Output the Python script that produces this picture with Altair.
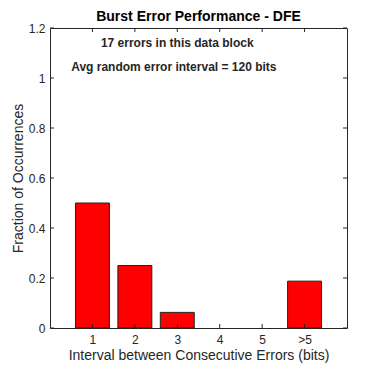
import altair as alt
import pandas as pd

categories = ["1", "2", "3", "4", "5", ">5"]
positions = [1, 2, 3, 4, 5, 6]
fractions = [0.5, 0.25, 0.0625, 0.0, 0.0, 0.1875]
y_ticks = [0, 0.2, 0.4, 0.6, 0.8, 1.0, 1.2]
notes = ["17 errors in this data block", "Avg random error interval = 120 bits"]
note_x = [1.2, 0.5]
note_y = [1.14, 1.045]

W, H = 297, 300
FONT = "Liberation Sans"

bars_df = pd.DataFrame({"cat": categories, "pos": positions, "frac": fractions})
ytick_df = pd.DataFrame({"v": y_ticks})
xtick_df = pd.DataFrame({"v": positions})
notes_df = pd.DataFrame({"t": notes, "x": note_x, "y": note_y})

xs = alt.Scale(domain=[0, 7], nice=False, zero=False)
ys = alt.Scale(domain=[0, 1.2], nice=False)

label_expr = "datum.value == 6 ? '>5' : datum.value"

x_axis = alt.Axis(
    values=positions, labelExpr=label_expr, title="Interval between Consecutive Errors (bits)",
    grid=False, domain=False, ticks=False, labelPadding=6, labelFont=FONT, labelFontSize=12,
    labelColor="#262626", titleFont=FONT, titleFontSize=14, titleFontWeight="normal",
    titleColor="#262626", titlePadding=3)
y_axis = alt.Axis(
    values=y_ticks, format="~g", title="Fraction of Occurrences", grid=False, domain=False,
    ticks=False, labelPadding=5, labelFont=FONT, labelFontSize=12, labelColor="#262626",
    titleFont=FONT, titleFontSize=14, titleFontWeight="normal", titleColor="#262626",
    titlePadding=3)

bars = alt.Chart(bars_df).transform_filter("datum.frac > 0").transform_calculate(
    x0="datum.pos - 0.4", x1="datum.pos + 0.4"
).mark_rect(color="#ff0000", stroke="#222222", strokeWidth=1).encode(
    x=alt.X("x0:Q", scale=xs, axis=x_axis),
    x2="x1:Q",
    y=alt.Y("frac:Q", scale=ys, axis=y_axis),
    y2=alt.datum(0),
)

tick_len = 4
ytl = alt.Chart(ytick_df).mark_rule(color="#262626").encode(
    y=alt.Y("v:Q", scale=ys, axis=y_axis), x=alt.value(0), x2=alt.value(tick_len))
ytr = alt.Chart(ytick_df).mark_rule(color="#262626").encode(
    y=alt.Y("v:Q", scale=ys, axis=y_axis), x=alt.value(W - tick_len), x2=alt.value(W))
xtb = alt.Chart(xtick_df).mark_rule(color="#262626").encode(
    x=alt.X("v:Q", scale=xs, axis=x_axis), y=alt.value(H - tick_len), y2=alt.value(H))
xtt = alt.Chart(xtick_df).mark_rule(color="#262626").encode(
    x=alt.X("v:Q", scale=xs, axis=x_axis), y=alt.value(0), y2=alt.value(tick_len))

texts = alt.Chart(notes_df).mark_text(
    align="left", baseline="middle", font=FONT, fontSize=12, fontWeight="bold", color="#262626"
).encode(x=alt.X("x:Q", scale=xs, axis=x_axis), y=alt.Y("y:Q", scale=ys, axis=y_axis), text="t:N")

chart = alt.layer(bars, ytl, ytr, xtb, xtt, texts).properties(
    width=W, height=H,
    autosize=alt.AutoSizeParams(type="none"),
    padding={"left": 42, "top": 20, "right": 20, "bottom": 40},
    title=alt.Title("Burst Error Performance - DFE", font=FONT, fontSize=14, fontWeight="bold",
                    color="#000000", offset=-2),
).configure_view(stroke="#262626", strokeWidth=1)

chart.save("out.html", embed_options={"renderer": "svg", "actions": False})
